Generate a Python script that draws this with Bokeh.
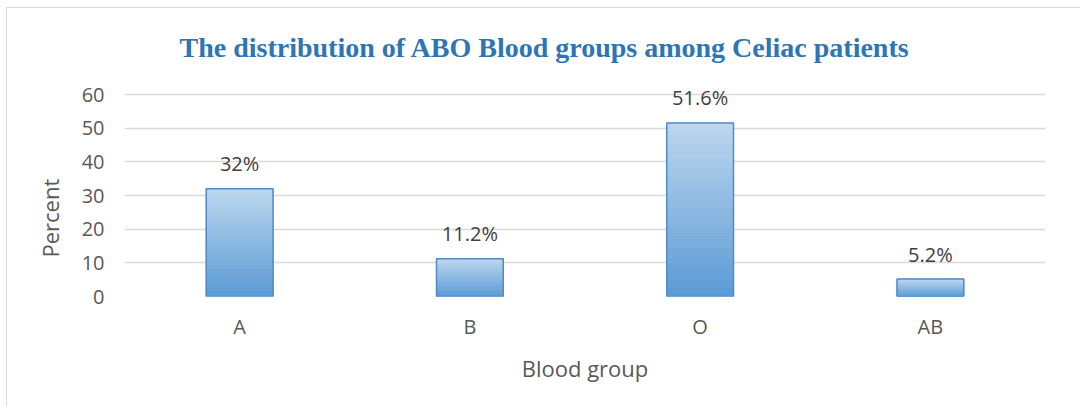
import numpy as np
from bokeh.plotting import figure
from bokeh.models import ColumnDataSource, FactorRange, Range1d, FixedTicker, Title
from bokeh.core.properties import value
from bokeh.embed import file_html
from bokeh.resources import INLINE

# ---- data ----
groups = ["A", "B", "O", "AB"]
percent = [32.0, 11.2, 51.6, 5.2]
labels = ["32%", "11.2%", "51.6%", "5.2%"]
y_ticks = [0, 10, 20, 30, 40, 50, 60]

title_text = "The distribution of ABO Blood groups among Celiac patients"
x_title = "Blood group"
y_title = "Percent"

TICK_FONT = "Open Sans"
GREY = "#595959"

# frame spans y 0..66 so that the top data label is not clipped
p = figure(
    width=1074, height=399,
    x_range=FactorRange(factors=groups, range_padding=0),
    y_range=Range1d(0, 66),
    output_backend="svg", toolbar_location=None,
    min_border_left=117, min_border_right=36,
    min_border_top=66, min_border_bottom=111,
)
p.margin = (7, 0, 0, 6)
p.styles = {"border-left": "1px solid #D9D9D9", "border-top": "1px solid #D9D9D9"}
p.background_fill_color = "white"
p.border_fill_color = "white"
p.outline_line_color = None

# title
p.title.text = title_text
p.title.text_font = "Liberation Serif"
p.title.text_font_style = "bold"
p.title.text_font_size = "28px"
p.title.text_color = "#2E75B6"
p.title.align = "left"
p.title.offset = 55
p.title.standoff = 24

# grid
p.xgrid.grid_line_color = None
p.ygrid.grid_line_color = "#D9D9D9"
p.ygrid.grid_line_width = 1.3

# axes
p.yaxis.ticker = FixedTicker(ticks=y_ticks)
for ax in (p.xaxis[0], p.yaxis[0]):
    ax.axis_line_color = None
    ax.major_tick_line_color = None
    ax.minor_tick_line_color = None
    ax.major_label_text_font = TICK_FONT
    ax.major_label_text_font_size = "20px"
    ax.major_label_text_color = GREY
    ax.axis_label_text_font = TICK_FONT
    ax.axis_label_text_font_size = "22px"
    ax.axis_label_text_font_style = "normal"
    ax.axis_label_text_color = GREY
p.yaxis.major_label_standoff = 14
p.xaxis.major_label_standoff = 10
p.xaxis.axis_label = x_title
p.xaxis.axis_label_standoff = 10

# y axis title as a side title, placed lower than the frame centre
ytitle = Title(text=y_title, align="left", offset=39, standoff=28,
               text_font=TICK_FONT, text_font_size="22px",
               text_font_style="normal", text_color=GREY)
p.add_layout(ytitle, "left")

# gradient bars: slices from darker bottom to lighter top
bottom_rgb = np.array([0x5B, 0x9B, 0xD5])
top_rgb = np.array([0xBD, 0xD7, 0xEE])
N = 60
xs, bots, tops, cols = [], [], [], []
for g, v in zip(groups, percent):
    for k in range(N):
        t = (k + 0.5) / N
        c = (bottom_rgb * (1 - t) + top_rgb * t).astype(int)
        xs.append(g)
        bots.append(v * k / N)
        tops.append(v * (k + 1) / N)
        cols.append("#%02x%02x%02x" % tuple(c))
grad = ColumnDataSource(dict(x=xs, bottom=bots, top=tops, color=cols))
p.vbar(x="x", bottom="bottom", top="top", width=0.29, source=grad,
       fill_color="color", line_color="color", line_width=1)

src = ColumnDataSource(dict(x=groups, top=percent, label=labels))
p.vbar(x="x", top="top", width=0.29, source=src, fill_color=None,
       line_color="#4F8CCB", line_width=1.5)

p.text(x="x", y="top", text="label", source=src, y_offset=-25,
       text_font=value(TICK_FONT), text_font_size="20px",
       text_color="#404040", text_align="center", text_baseline="middle")

open("out.html", "w").write(file_html(p, INLINE))
